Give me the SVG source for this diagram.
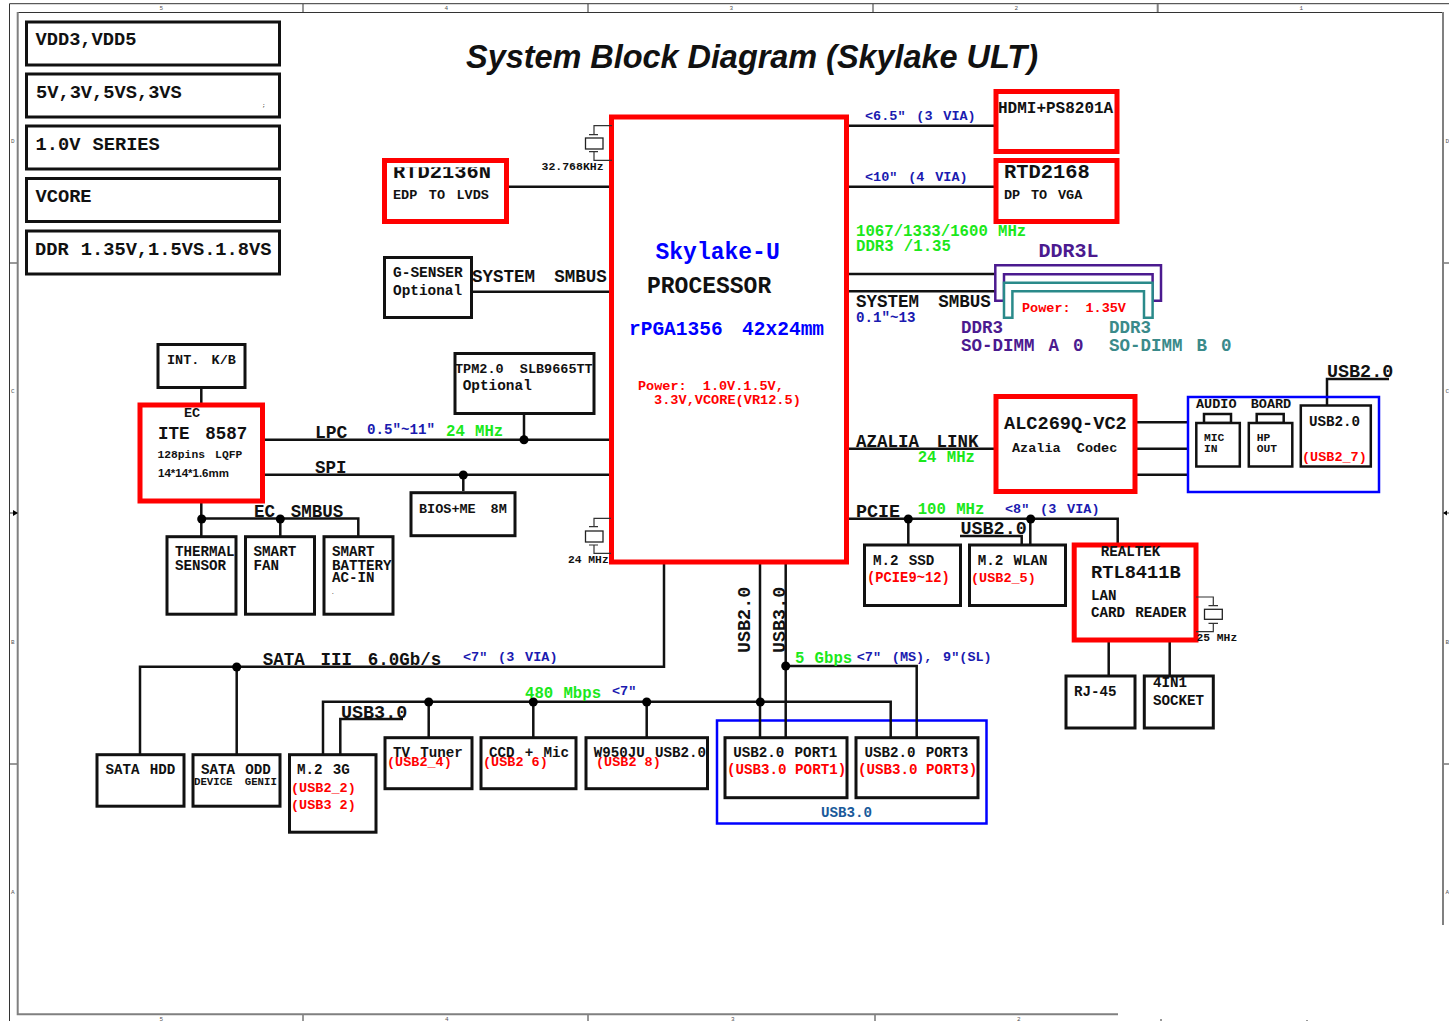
<svg xmlns="http://www.w3.org/2000/svg" width="1449" height="1021" viewBox="0 0 1449 1021">
<style>
text{font-family:"Liberation Mono","DejaVu Sans Mono",monospace;font-weight:700;fill:#111}
.s6{font-size:6px;font-weight:400;fill:#555}
.s11{font-size:11.3px}
.s13{font-size:13.5px;word-spacing:.2em}
.s14{font-size:14.2px;word-spacing:.12em}
.s16{font-size:15.7px;word-spacing:.05em}
.s18{font-size:17.5px;word-spacing:.3em}
.s185{font-size:18.4px}
.s19{font-size:18.7px;word-spacing:.05em}
.s20{font-size:20.4px}
.s23{font-size:23px}
.nw{word-spacing:0}
.red{fill:#f00}.navy{fill:#1a1ab0}.green{fill:#1be81b}.blue{fill:#00f}.purple{fill:#4b1a8f}.teal{fill:#3a8a8a}
.box{fill:#fff;stroke:#111;stroke-width:3}
.box2{fill:#fff;stroke:#111;stroke-width:2.5}
.hot{fill:#fff;stroke:#f00;stroke-width:5}
.area{fill:none;stroke:#00f;stroke-width:2.5}
.wire{fill:none;stroke:#111;stroke-width:2.5}
.thin{fill:none;stroke:#333;stroke-width:1.2}
.xt{fill:#fff;stroke:#222;stroke-width:1.3}
.frame{fill:none;stroke:#333;stroke-width:1}
.frame2{fill:none;stroke:#808080;stroke-width:2}
</style>
<g id="frame">
<path class="frame" d="M9.5 1021V3.7H1449M17 12.5H1443M303 4V12M588 4V12M873 4V12M9.5 263H17M9.5 513H17M9.5 764H17M1443 263H1449M1443 513H1449M1443 764H1449M303 1015V1021M588 1015V1021M875 1015V1021M1161 1019V1021M1307 1020V1021"/>
<path class="frame2" d="M17.7 12V1014.3H1118M1443 12V925M1157.7 4V12"/>
<polygon points="13,510 18,513 13,516" fill="#000"/>
<polygon points="1443,513 1447,510.5 1447,515.5" fill="#000"/>
<text class="s6" x="159.500" y="9.500">5</text><text class="s6" x="444.500" y="9.500">4</text><text class="s6" x="729.500" y="9.500">3</text><text class="s6" x="1014.500" y="9.500">2</text><text class="s6" x="1299.500" y="9.500">1</text>
<text class="s6" x="159.500" y="1020.500">5</text><text class="s6" x="445" y="1020.500">4</text><text class="s6" x="731" y="1020.500">3</text><text class="s6" x="1017" y="1020.500">2</text>
<text class="s6" x="11" y="143">D</text><text class="s6" x="11" y="393">C</text><text class="s6" x="11" y="644">B</text><text class="s6" x="11" y="894">A</text>
<text class="s6" x="1445.500" y="143">D</text><text class="s6" x="1445.500" y="393">C</text><text class="s6" x="1445.500" y="644">B</text><text class="s6" x="1445.500" y="894">A</text>
</g>
<text id="title" x="466" y="68" font-size="32.500" textLength="572" style="font-family:'Liberation Sans',Arial,sans-serif;font-style:italic">System Block Diagram (Skylake ULT)</text>
<g id="power-rails">
<rect class="box" x="26.500" y="22" width="253" height="43"/><text class="s19" x="35.500" y="45">VDD3,VDD5</text>
<rect class="box" x="26.500" y="74" width="253" height="43"/><text class="s19" x="36" y="98">5V,3V,5VS,3VS</text><text class="s6" x="262" y="107" style="fill:#111">;</text>
<rect class="box" x="26.500" y="126" width="253" height="43"/><text class="s19" x="35.500" y="150">1.0V SERIES</text>
<rect class="box" x="26.500" y="178.500" width="253" height="43"/><text class="s19" x="35.500" y="202">VCORE</text>
<rect class="box" x="26.500" y="231" width="253" height="43"/><text class="s19" x="35" y="255">DDR 1.35V,1.5VS.1.8VS</text>
</g>
<g id="usb3-area">
<rect class="area" x="717" y="720.500" width="269.500" height="103"/>
<text class="s14" x="821" y="817.300" style="fill:#1a5a9a">USB3.0</text>
</g>
<g id="connectors">
<path class="wire" d="M849 125.700H994M847 186.700H996M506 186.700H612M847 274H996M847 291.300H996M472 291.700H612M847 448.700H996M1135 422.300H1188M1135 448.700H1188M1135 474.700H1188M1327 405V379H1389"/>
<path class="wire" d="M201.300 388V403M265 439.700H612M524 414V440M265 474.700H612M463.300 475V491M201.300 503V536M201.300 518.500H358.300V536M280.300 519V536"/>
<path class="wire" d="M847 518.700H1117.700V543.300M908.300 519V544M1030.300 519V544M960 536H1021.700V544M1108.700 642V675M1169.700 642V675"/>
<path class="wire" d="M664 564V666.700H140V754M236.700 667V754M760 564V737M785.700 564V737M785.700 666H916.700V737M323 754V701.700H890.700V737M340.300 754V719H403M428.700 702V737M533.300 702V737M646.700 702V737"/>
<g fill="#000">
<circle cx="524" cy="439.700" r="4.500"/><circle cx="463.300" cy="475" r="4.500"/><circle cx="201.700" cy="519" r="4.500"/><circle cx="280.300" cy="519" r="4.500"/>
<circle cx="908.300" cy="519" r="4.500"/><circle cx="1030.700" cy="519" r="4.500"/><circle cx="236.700" cy="667" r="4.500"/><circle cx="785.700" cy="666" r="4.500"/>
<circle cx="428.700" cy="702" r="4.500"/><circle cx="533.300" cy="702" r="4.500"/><circle cx="646.700" cy="702" r="4.500"/><circle cx="760.300" cy="702" r="4.500"/>
</g>
<text class="navy s13" x="865" y="120">&lt;6.5" (3 VIA)</text>
<text class="navy s13" x="865" y="181">&lt;10" (4 VIA)</text>
<text class="green s16" x="856" y="235.500">1067/1333/1600 MHz</text>
<text class="green s16" x="856" y="251">DDR3 /1.35</text>
<text class="s18" x="856" y="307" style="word-spacing:.5em">SYSTEM SMBUS</text>
<text class="navy s14" x="856" y="322">0.1"~13</text>
<text class="s18" x="472" y="281.700" style="word-spacing:.5em">SYSTEM SMBUS</text>
<text class="s18" x="856" y="447" style="word-spacing:.4em">AZALIA LINK</text>
<text class="green s16" x="917.700" y="461.700">24 MHz</text>
<text class="s185" x="1327" y="376.700">USB2.0</text>
<text class="s18" x="315" y="438.200" style="font-size:18px">LPC</text>
<text class="navy s14" x="367" y="434">0.5"~11"</text>
<text class="green s16" x="446" y="435.700">24 MHz</text>
<text class="s18" x="315" y="472.700">SPI</text>
<text class="s18" x="254" y="516.700">EC SMBUS</text>
<text class="s185" x="856" y="516.700">PCIE</text>
<text class="green s16" x="917.700" y="514">100 MHz</text>
<text class="navy s13" x="1005" y="513.300">&lt;8" (3 VIA)</text>
<text class="s185" x="960.500" y="534.300">USB2.0</text>
<text class="s18" x="262.700" y="665">SATA III 6.0Gb/s</text>
<text class="navy s13" x="463" y="661">&lt;7" (3 VIA)</text>
<text class="s185" x="341" y="717.700">USB3.0</text>
<text class="green s16" x="525" y="698.300">480 Mbps</text>
<text class="navy s13" x="612" y="695">&lt;7"</text>
<text class="s185" transform="rotate(-90 750 653)" x="750" y="653">USB2.0</text>
<text class="s185" transform="rotate(-90 785 653)" x="785" y="653">USB3.0</text>
<text class="green s16" x="795" y="662.700">5 Gbps</text>
<text class="navy s13" x="856.700" y="660.700">&lt;7" (MS), 9"(SL)</text>
</g>
<g id="cpu">
<rect class="hot" x="611.500" y="117" width="235" height="445"/>
<text class="blue s23" x="655.500" y="259">Skylake-U</text>
<text class="s23" x="647" y="293.200">PROCESSOR</text>
<text class="blue" x="629" y="335" font-size="19.500" style="word-spacing:.4em">rPGA1356 42x24mm</text>
<text class="red s13" x="638" y="390" style="word-spacing:.6em">Power: 1.0V.1.5V,</text>
<text class="red s13" x="654" y="404" style="font-size:13.600px">3.3V,VCORE(VR12.5)</text>
</g>
<g id="crystal-32k">
<path class="thin" d="M612 125.700H594V134.700M589 134.700H598M589 151.700H598M594 151.700V160.300H612"/>
<rect class="xt" x="585.500" y="138" width="17.500" height="11"/>
<text class="s11" x="541.500" y="170" style="font-size:11.500px">32.768KHz</text>
</g>
<g id="crystal-24m">
<path class="thin" d="M611 518.300H594V526.700M589 526.700H598M589 545H598M594 545V553.300H611"/>
<rect class="xt" x="585.500" y="531" width="17.500" height="11"/>
<text class="s11" x="568" y="562.700">24 MHz</text>
</g>
<g id="rtd2136n">
<text class="s20" x="393" y="178.300">RTD2136N</text>
<rect x="387" y="161" width="117" height="6.300" fill="#fff"/>
<rect x="384.500" y="160.500" width="122" height="61" fill="none" stroke="#f00" stroke-width="5"/>
<text class="s13" x="393" y="199" style="word-spacing:.25em">EDP TO LVDS</text>
</g>
<g id="g-senser">
<rect class="box" x="384.500" y="257.500" width="87" height="60"/>
<text class="s14" x="393" y="277.300" style="font-size:14.500px">G-SENSER</text>
<text class="s14" x="393" y="295" style="font-size:14.400px">Optional</text>
</g>
<g id="hdmi">
<rect class="hot" x="996" y="91.500" width="121" height="60"/>
<text x="998" y="113" font-size="16">HDMI+PS8201A</text>
</g>
<g id="rtd2168">
<rect class="hot" x="996" y="160.500" width="121" height="61"/>
<text class="s20" x="1004" y="177.700">RTD2168</text>
<text class="s13" x="1004" y="199">DP TO VGA</text>
</g>
<g id="ddr3-dimm-a">
<path fill="#fff" stroke="#4b1a8f" stroke-width="2.500" d="M995.300 300.700V265.300H1161V300.700H1152.600V274.300H1004V300.700Z"/>
<text class="purple" x="1038.500" y="256.500" font-size="20">DDR3L</text>
<text class="purple" x="961" y="333" font-size="17.500">DDR3</text>
<text class="purple s18" x="961" y="350.700" style="word-spacing:.2em">SO-DIMM A 0</text>
</g>
<g id="ddr3-dimm-b">
<path fill="#fff" stroke="#2a8a8a" stroke-width="2.500" d="M1004 317.700V282.700H1152.600V317.700H1144V291.300H1012.400V317.700Z"/>
<text class="red s13" x="1022" y="311.700" style="word-spacing:.5em">Power: 1.35V</text>
<text class="teal" x="1109" y="333" font-size="17.500">DDR3</text>
<text class="teal s18" x="1109" y="350.700" style="word-spacing:.2em">SO-DIMM B 0</text>
</g>
<g id="alc269">
<rect class="hot" x="996" y="396.500" width="139" height="95"/>
<text x="1004" y="429" font-size="18.600">ALC269Q-VC2</text>
<text class="s13" x="1012" y="451.700" style="word-spacing:.6em">Azalia Codec</text>
</g>
<g id="audio-board">
<rect class="area" x="1188" y="397" width="191" height="95"/>
<text class="s13" x="1196" y="408" style="word-spacing:.45em">AUDIO BOARD</text>
<rect class="box2" x="1204" y="414" width="27" height="9"/>
<rect class="box2" x="1196.300" y="423" width="43.500" height="43.500"/>
<text class="s11" x="1204" y="440.700">MIC</text><text class="s11" x="1204" y="452">IN</text>
<rect class="box2" x="1256.700" y="414" width="27" height="9"/>
<rect class="box2" x="1248.800" y="423" width="43.500" height="43.500"/>
<text class="s11" x="1256.700" y="440.700">HP</text><text class="s11" x="1256.700" y="452">OUT</text>
<rect class="box2" x="1300.800" y="405.500" width="70" height="61"/>
<text class="s14" x="1309" y="425.700">USB2.0</text>
<text class="red s13" x="1302" y="460.700">(USB2_7)</text>
</g>
<g id="int-kb">
<rect class="box" x="158" y="344.500" width="87" height="43"/>
<text class="s13" x="167" y="364" style="word-spacing:.3em">INT. K/B</text>
</g>
<g id="ec">
<rect class="hot" x="140" y="405" width="122.500" height="96"/>
<text class="s13" x="184" y="417.300">EC</text>
<text class="s18" x="158" y="438.500">ITE 8587</text>
<text class="s11" x="157.500" y="458" style="word-spacing:.3em">128pins LQFP</text>
<text x="158" y="477" font-size="11.500" style="font-family:'Liberation Sans',Arial,sans-serif">14*14*1.6mm</text>
</g>
<g id="tpm">
<rect class="box" x="455" y="353.500" width="139" height="60"/>
<text class="s13" x="455" y="373.300" style="word-spacing:.6em">TPM2.0 SLB9665TT</text>
<text class="s14" x="462.700" y="390" style="font-size:14.400px">Optional</text>
</g>
<g id="bios">
<rect class="box" x="411" y="492.700" width="104" height="43"/>
<text class="s13" x="419" y="513.300" style="word-spacing:.5em">BIOS+ME 8M</text>
</g>
<g id="thermal">
<rect class="box" x="167" y="536.700" width="69" height="77.500"/>
<text class="s14" x="175" y="556">THERMAL</text><text class="s14" x="175" y="570">SENSOR</text>
</g>
<g id="fan">
<rect class="box" x="245.500" y="536.700" width="69" height="77.500"/>
<text class="s14" x="253.600" y="556">SMART</text><text class="s14" x="253.600" y="570">FAN</text>
</g>
<g id="battery">
<rect class="box" x="324" y="536.700" width="69" height="77.500"/>
<text class="s14" x="332" y="556">SMART</text><text class="s14" x="332" y="570">BATTERY</text><text class="s14" x="332" y="581.700">AC-IN</text><text class="s6" x="331" y="594" style="fill:#111">.</text>
</g>
<g id="m2-ssd">
<rect class="box" x="864.500" y="545" width="96" height="60.500"/>
<text class="s14" x="873" y="565">M.2 SSD</text>
<text class="red" x="867" y="581.700" font-size="13.800">(PCIE9~12)</text>
</g>
<g id="m2-wlan">
<rect class="box" x="969.500" y="545" width="96" height="60.500"/>
<text class="s14" x="977.700" y="565">M.2 WLAN</text>
<text class="red s13" x="971" y="581.700">(USB2_5)</text>
</g>
<g id="rtl8411">
<rect class="hot" x="1074.200" y="545" width="121.800" height="95"/>
<text class="s14" x="1100.700" y="556">REALTEK</text>
<text x="1091" y="578" font-size="18.700">RTL8411B</text>
<text class="s14" x="1091" y="600">LAN</text>
<text class="s14" x="1091" y="617.300">CARD READER</text>
</g>
<g id="crystal-25m">
<path class="thin" d="M1196 597H1213.300V605.700M1208.500 605.700H1218M1208.500 623.300H1218M1213.300 623.300V631.700H1196"/>
<rect class="xt" x="1204.500" y="609.300" width="17.800" height="10"/>
<text class="s11" x="1196.500" y="640.700">25 MHz</text>
</g>
<g id="rj45">
<rect class="box" x="1066" y="676" width="69" height="52"/>
<text class="s14" x="1074" y="696">RJ-45</text>
</g>
<g id="socket">
<rect class="box" x="1144.300" y="676" width="69" height="52"/>
<text class="s14" x="1153" y="686.700">4IN1</text><text class="s14" x="1153" y="705">SOCKET</text>
</g>
<g id="sata-hdd">
<rect class="box" x="97" y="754.700" width="87" height="51.500"/>
<text class="s14" x="105.500" y="774">SATA HDD</text>
</g>
<g id="sata-odd">
<rect class="box" x="193" y="754.700" width="87" height="51.500"/>
<text class="s14" x="201" y="774">SATA ODD</text>
<text x="194" y="785" font-size="10.700" style="word-spacing:.55em">DEVICE GENII</text>
</g>
<g id="m2-3g">
<rect class="box" x="289.500" y="754.700" width="86.500" height="77.500"/>
<text class="s14" x="297" y="774">M.2 3G</text>
<text class="red s13" x="291" y="792">(USB2_2)</text>
<text class="red s13 nw" x="291" y="809">(USB3 2)</text>
</g>
<g id="tv-tuner">
<rect class="box" x="385" y="737.700" width="87" height="51"/>
<text class="s14" x="393" y="756.700">TV Tuner</text>
<text class="red s13" x="387" y="766">(USB2_4)</text>
</g>
<g id="ccd-mic">
<rect class="box" x="481" y="737.700" width="95" height="51"/>
<text class="s14" x="489" y="756.700">CCD + Mic</text>
<text class="red s13 nw" x="483" y="766">(USB2 6)</text>
</g>
<g id="w950ju">
<rect class="box" x="586" y="737.700" width="121.500" height="51"/>
<text class="s14" x="593.700" y="756.700">W950JU USB2.0</text>
<text class="red s13 nw" x="596" y="766">(USB2 8)</text>
</g>
<g id="usb-port1">
<rect class="box" x="725" y="737.700" width="122" height="60"/>
<text class="s14" x="733.300" y="756.700">USB2.0 PORT1</text>
<text class="red s14 nw" x="727" y="774">(USB3.0 PORT1)</text>
</g>
<g id="usb-port3">
<rect class="box" x="856" y="737.700" width="122" height="60"/>
<text class="s14" x="864.500" y="756.700">USB2.0 PORT3</text>
<text class="red s14 nw" x="858" y="774">(USB3.0 PORT3)</text>
</g>
</svg>
